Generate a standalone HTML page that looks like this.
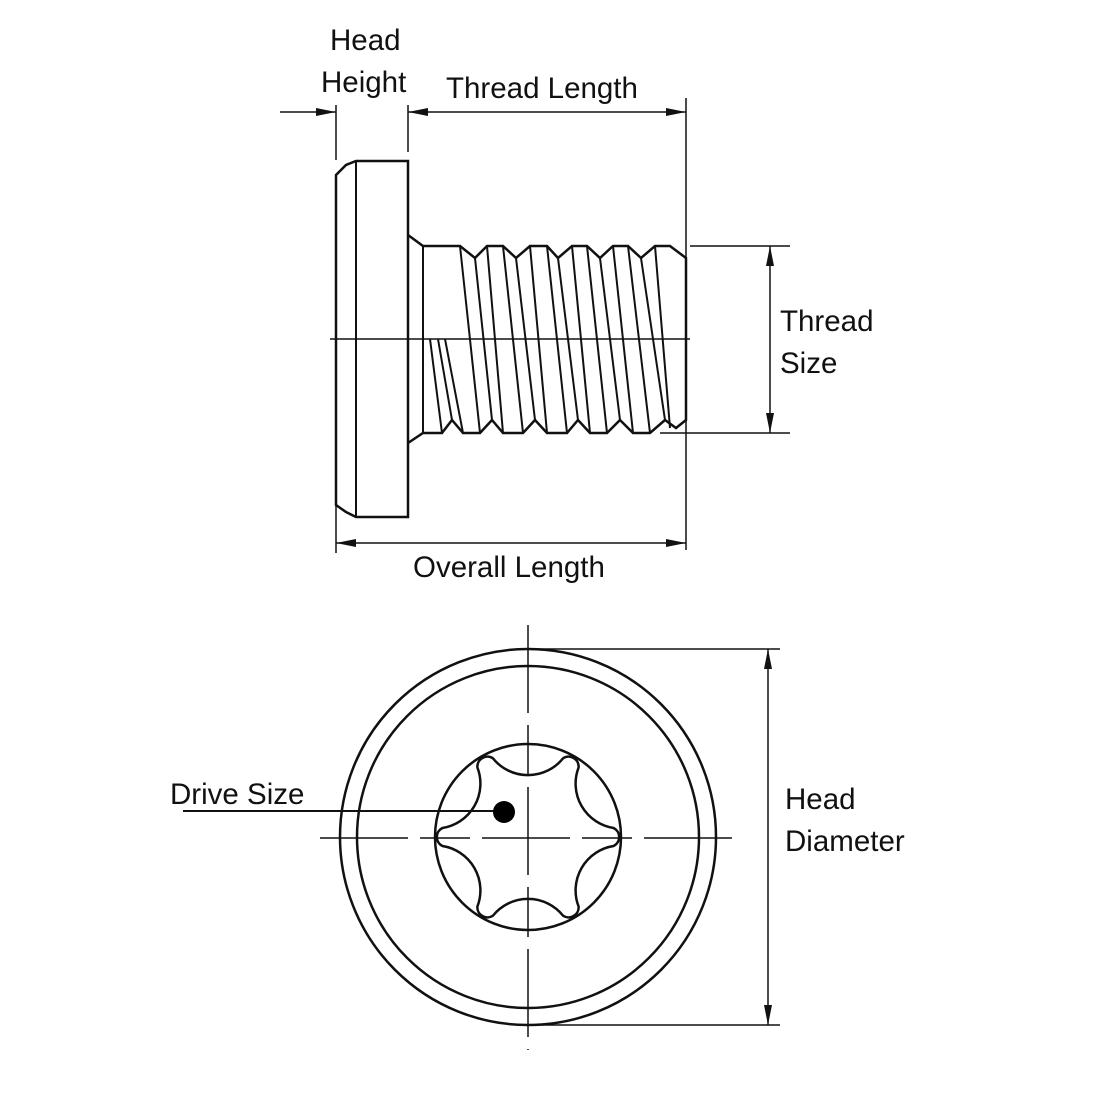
<!DOCTYPE html>
<html><head><style>
html,body{margin:0;padding:0;background:#fff;}
svg{display:block;}
text{font-family:"Liberation Sans",sans-serif;font-size:29.5px;fill:#111;}
</style></head><body>
<svg width="1100" height="1100" viewBox="0 0 1100 1100" xmlns="http://www.w3.org/2000/svg">
<defs>
<marker id="a" viewBox="0 0 20 10" refX="20" refY="5" markerWidth="20" markerHeight="10" markerUnits="userSpaceOnUse" orient="auto-start-reverse">
<path d="M0,1 L20,5 L0,9 z" fill="#111"/>
</marker>
</defs>
<g stroke="#111" fill="none" stroke-width="2">
<!-- head -->
<path d="M336,175 L346,165 L356,161 L408,161 L408,517 L356,517 L346,512 L336,505 Z" stroke-width="2.5"/>
<line x1="356" y1="161" x2="356" y2="517"/>
<!-- shank -->
<path d="M408,235 L423,246 L460,246 L475,258 L487,246 L503,246 L516,258 L530,246 L547,246 L558,258 L572,246 L587,246 L600,258 L613,246 L628,246 L641,258 L655,246 L670,246 L686,258 L686,420 L676,428 L665,420 L650,433 L633,433 L620,420 L607,433 L590,433 L578,420 L567,433 L547,433 L535,420 L523,433 L503,433 L492,420 L480,433 L463,433 L452,420 L442,433 L423,433 L408,443" stroke-width="2.5"/>
<line x1="423" y1="246" x2="423" y2="433"/>
<!-- thread flanks -->
<path d="M460,246 L480,433 M475,258 L492,420 M487,246 L503,433 M503,246 L523,433 M516,258 L535,420 M530,246 L547,433 M547,246 L567,433 M558,258 L578,420 M572,246 L590,433 M587,246 L607,433 M600,258 L620,420 M613,246 L633,433 M628,246 L650,433 M641,258 L665,420 M655,246 L670,428 M430,339 L442,433 M438,339 L452,420 M445,339 L463,433"/>
<line x1="330" y1="339" x2="690" y2="339" stroke-width="1.5"/>
<!-- dimensions top -->
<line x1="336" y1="105" x2="336" y2="160" stroke-width="1.5"/>
<line x1="408" y1="105" x2="408" y2="152" stroke-width="1.5"/>
<line x1="686" y1="98" x2="686" y2="550" stroke-width="1.5"/>
<line x1="336" y1="505" x2="336" y2="553" stroke-width="1.5"/>
<line x1="280" y1="112" x2="336" y2="112" stroke-width="1.5" marker-end="url(#a)"/>
<line x1="408" y1="112" x2="686" y2="112" stroke-width="1.5" marker-start="url(#a)" marker-end="url(#a)"/>
<line x1="336" y1="543" x2="686" y2="543" stroke-width="1.5" marker-start="url(#a)" marker-end="url(#a)"/>
<line x1="690" y1="246" x2="790" y2="246" stroke-width="1.5"/>
<line x1="660" y1="433" x2="790" y2="433" stroke-width="1.5"/>
<line x1="770" y1="246" x2="770" y2="433" stroke-width="1.5" marker-start="url(#a)" marker-end="url(#a)"/>
<!-- bottom view -->
<circle cx="528" cy="837" r="188" stroke-width="2.5"/>
<circle cx="528" cy="837" r="171" stroke-width="2.5"/>
<circle cx="528" cy="837" r="93" stroke-width="2.5"/>
<path stroke-width="2.5" d="M613.5,828 A45,45 0 0 1 578.6,767.4 A10,10 0 0 0 563,758.4 A45,45 0 0 1 493,758.4 A10,10 0 0 0 477.4,767.4 A45,45 0 0 1 442.5,828 A10,10 0 0 0 442.5,846 A45,45 0 0 1 477.4,906.6 A10,10 0 0 0 493,915.6 A45,45 0 0 1 563,915.6 A10,10 0 0 0 578.6,906.6 A45,45 0 0 1 613.5,846 A10,10 0 0 0 613.5,828 Z"/>
<line x1="528" y1="625" x2="528" y2="1050" stroke-width="1.5" stroke-dasharray="88,12,50,12"/>
<line x1="320" y1="838" x2="738" y2="838" stroke-width="1.5" stroke-dasharray="88,12,50,12"/>
<line x1="528" y1="649" x2="780" y2="649" stroke-width="1.5"/>
<line x1="528" y1="1025" x2="780" y2="1025" stroke-width="1.5"/>
<line x1="768" y1="649" x2="768" y2="1025" stroke-width="1.5" marker-start="url(#a)" marker-end="url(#a)"/>
<line x1="183" y1="811" x2="504" y2="811" stroke-width="2"/>
</g>
<circle cx="504" cy="812" r="11" fill="#000"/>
<text x="330" y="50">Head</text>
<text x="321" y="92">Height</text>
<text x="446" y="98">Thread Length</text>
<text x="780" y="331">Thread</text>
<text x="780" y="373">Size</text>
<text x="413" y="577">Overall Length</text>
<text x="170" y="804">Drive Size</text>
<text x="785" y="809">Head</text>
<text x="785" y="851">Diameter</text>
</svg>
</body></html>
